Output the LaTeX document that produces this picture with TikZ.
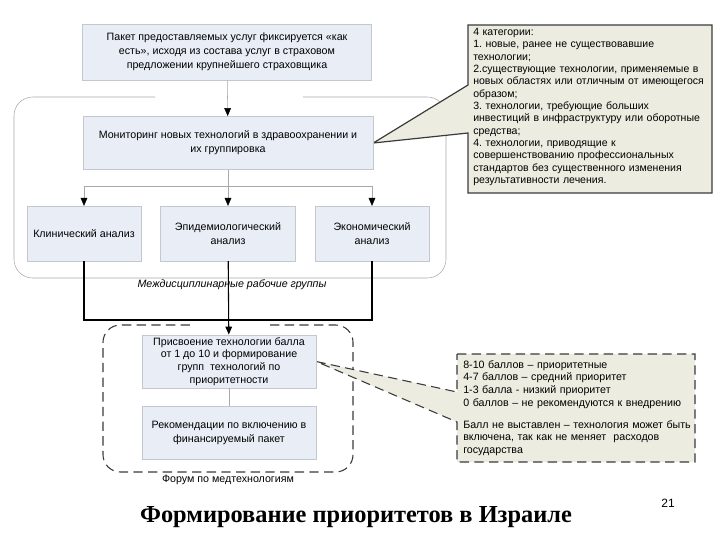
\documentclass[tikz,border=0pt]{standalone}
\usepackage{fontspec}
\setmainfont{Liberation Sans}
\newfontfamily\slidetitle{Liberation Serif}
\usetikzlibrary{arrows.meta,backgrounds}
\frenchspacing
\definecolor{boxfill}{HTML}{E9EEF6}
\definecolor{boxline}{HTML}{C3C7CE}
\definecolor{notefill}{HTML}{ECECE1}
\definecolor{grayline}{HTML}{A8A8A8}
\definecolor{noteline}{HTML}{3A3A3A}
\begin{document}
\begin{tikzpicture}[x=0.75pt,y=-0.75pt,
  box/.style={draw=boxline, fill=boxfill, align=center, inner sep=2pt, font=\fontsize{8}{10.5}\selectfont},
  link/.style={draw=grayline, -{Triangle[black,length=6pt,width=5pt]}},
  feed/.style={draw=black, line width=0.8pt},
  note/.style={fill=notefill, draw=noteline, line width=0.9pt},
  dashnote/.style={fill=notefill, draw=noteline, line width=0.8pt, dash pattern=on 7pt off 4pt},
  notetext/.style={align=left, anchor=west, inner sep=0pt, text width=190pt, font=\fontsize{7.9}{9.25}\selectfont}]
\useasboundingbox (0,0) rectangle (720,540);

\begin{scope}[every node/.style={box}]
    \node[minimum width=217pt, minimum height=42pt] (pkg) at (227,52) {Пакет предоставляемых услуг фиксируется «как\\есть», исходя из состава услуг в страховом\\предложении крупнейшего страховщика};
    \node[minimum width=217.5pt, minimum height=40pt] (mon) at (228,143) {Мониторинг новых технологий в здравоохранении и\\их группировка};
    \node[minimum width=85.5pt, minimum height=41pt] (clin) at (84,233.5) {Клинический анализ};
    \node[minimum width=101pt, minimum height=41pt] (epid) at (228,233.5) {Эпидемиологический\\анализ};
    \node[minimum width=85.5pt, minimum height=41pt] (econ) at (372,233.5) {Экономический\\анализ};
    \node[minimum width=130.5pt, minimum height=40pt, font=\fontsize{8}{9.5}\selectfont] (assign) at (229,361.5) {Присвоение технологии балла\\от 1 до 10 и формирование\\групп~ технологий по\\приоритетности};
    \node[minimum width=130.5pt, minimum height=40pt] (rec) at (229,432.5) {Рекомендации по включению в\\финансируемый пакет};
\end{scope}

\node[font=\itshape\fontsize{8}{10}\selectfont] (groups) at (232,285) {Междисциплинарные рабочие группы};
\node[font=\fontsize{8}{10}\selectfont] (forum) at (228,480) {Форум по медтехнологиям};

\node[notetext] (cat) at (473,107) {4 категории:\\1. новые, ранее не существовавшие\\технологии;\\2.существующие технологии, применяемые в\\новых областях или отличным от имеющегося\\образом;\\3. технологии, требующие больших\\инвестиций в инфраструктуру или оборотные\\средства;\\4. технологии, приводящие к\\совершенствованию профессиональных\\стандартов без существенного изменения\\результативности лечения.};
\node[notetext, font=\fontsize{8}{9.5}\selectfont] (score) at (463,408) {8-10 баллов – приоритетные\\4-7 баллов – средний приоритет\\1-3 балла - низкий приоритет\\0 баллов – не рекомендуются к внедрению\\[7pt]Балл не выставлен – технология может быть\\включена, так как не меняет~ расходов\\государства};

\node[font=\slidetitle\bfseries\fontsize{18.3}{22}\selectfont] (title) at (356,517) {Формирование приоритетов в Израиле};
\node[font=\fontsize{9}{10}\selectfont] (page) at (668,503) {21};

\coordinate (split) at (228,186);
\coordinate (merge) at (228,320);

\begin{scope}[on background layer]
    \draw[grayline, rounded corners=14pt] (303,97) -- (446,97) -- (446,278) -- (14,278) -- (14,97) -- (155,97);
    \draw[noteline, line width=0.8pt, dash pattern=on 7pt off 4pt, rounded corners=13pt] (270,325) -- (353,325) -- (353,472) -- (103,472) -- (103,325) -- (190,325);
    \draw[note] (468,25) -- (712,25) -- (712,193) -- (468,193) -- (468,133) -- (mon.east) -- (468,85) -- cycle;
    \draw[dashnote] (457,354) -- (695,354) -- (695,462) -- (457,462) -- (457,422) -- (assign.east) -- (457,392) -- cycle;
\end{scope}

\draw[link] (pkg) -- (mon);
\draw[grayline] (mon) -- (split);
\draw[link] (split) -| (clin);
\draw[link] (split) -- (epid);
\draw[link] (split) -| (econ);
\draw[feed] (clin) |- (merge);
\draw[feed] (econ) |- (merge);
\draw[feed, -{Triangle[length=6pt,width=5pt]}] (epid) -- (assign);
\draw[grayline] (assign) -- (rec);
\end{tikzpicture}
\end{document}
